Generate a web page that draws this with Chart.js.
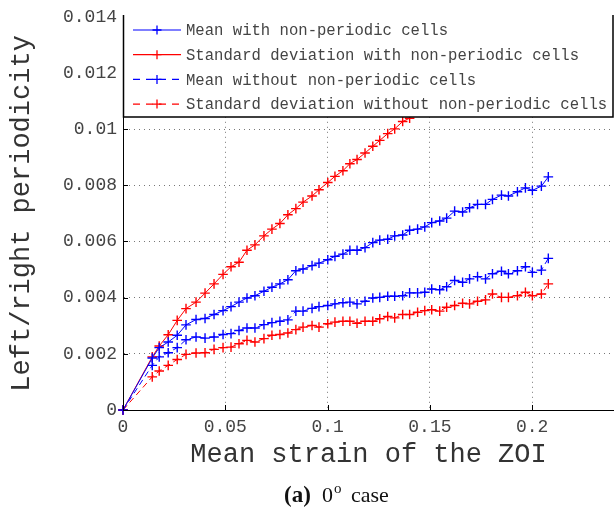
<!DOCTYPE html>
<html>
<head>
<meta charset="utf-8">
<script src="https://cdn.jsdelivr.net/npm/chart.js@4/dist/chart.umd.min.js"></script>
<style>
  html, body { margin: 0; padding: 0; background: #fff; }
  #wrap { width: 614px; height: 512px; }
</style>
</head>
<body>
<div id="wrap"><canvas id="chart"></canvas></div>
<script>
// mean strain of the ZOI at each saved step
const strain = [0, 0.0143, 0.0177, 0.0221, 0.0265, 0.0308, 0.0357, 0.0401, 0.0445, 0.0489,
  0.0528, 0.0567, 0.0606, 0.0645, 0.0689, 0.0728, 0.0767, 0.0806, 0.0845, 0.0880,
  0.0924, 0.0958, 0.1001, 0.1036, 0.1075, 0.1109, 0.1144, 0.1183, 0.1221, 0.1255,
  0.1294, 0.1328, 0.1367, 0.1401, 0.1440, 0.1475, 0.1509, 0.1548, 0.1582, 0.1621,
  0.1660, 0.1694, 0.1733, 0.1772, 0.1806, 0.1850, 0.1884, 0.1928, 0.1967, 0.2001,
  0.2045, 0.2079];

const meanWith = [0, 0.00185, 0.00222, 0.00242, 0.00266, 0.00303, 0.00322, 0.00326, 0.00340, 0.00354,
  0.00368, 0.00384, 0.00399, 0.00407, 0.00423, 0.00437, 0.00449, 0.00464, 0.00496, 0.00502,
  0.00514, 0.00523, 0.00535, 0.00547, 0.00555, 0.00569, 0.00569, 0.00578, 0.00596, 0.00605,
  0.00608, 0.00620, 0.00623, 0.00640, 0.00644, 0.00652, 0.00667, 0.00673, 0.00683, 0.00708,
  0.00705, 0.00720, 0.00732, 0.00732, 0.00750, 0.00765, 0.00762, 0.00777, 0.00791, 0.00782,
  0.00797, 0.00830];

// runs up behind the legend box
const stdWith = [0, 0.00189, 0.00228, 0.00268, 0.00319, 0.00361, 0.00384, 0.00416, 0.00449, 0.00483,
  0.00510, 0.00526, 0.00569, 0.00588, 0.00620, 0.00644, 0.00664, 0.00695, 0.00717, 0.00740,
  0.00762, 0.00784, 0.00810, 0.00832, 0.00852, 0.00877, 0.00892, 0.00915, 0.00939, 0.00960,
  0.00984, 0.01001, 0.01027, 0.01039];

const meanWithout = [0, 0.00159, 0.00189, 0.00204, 0.00222, 0.00250, 0.00260, 0.00256, 0.00260, 0.00269,
  0.00272, 0.00283, 0.00292, 0.00292, 0.00304, 0.00311, 0.00316, 0.00321, 0.00352, 0.00352,
  0.00362, 0.00368, 0.00372, 0.00378, 0.00382, 0.00384, 0.00378, 0.00387, 0.00399, 0.00401,
  0.00405, 0.00405, 0.00407, 0.00417, 0.00417, 0.00419, 0.00431, 0.00428, 0.00439, 0.00461,
  0.00455, 0.00467, 0.00475, 0.00467, 0.00485, 0.00494, 0.00485, 0.00496, 0.00510, 0.00490,
  0.00498, 0.00540];

const stdWithout = [0, 0.00118, 0.00139, 0.00159, 0.00180, 0.00198, 0.00203, 0.00204, 0.00216, 0.00222,
  0.00224, 0.00236, 0.00248, 0.00242, 0.00254, 0.00266, 0.00269, 0.00274, 0.00286, 0.00295,
  0.00301, 0.00295, 0.00307, 0.00313, 0.00316, 0.00316, 0.00309, 0.00316, 0.00316, 0.00325,
  0.00333, 0.00328, 0.00340, 0.00340, 0.00348, 0.00354, 0.00357, 0.00352, 0.00366, 0.00372,
  0.00380, 0.00378, 0.00387, 0.00392, 0.00413, 0.00401, 0.00401, 0.00407, 0.00419, 0.00407,
  0.00413, 0.00449];

const seriesNames = [
  'Mean with non-periodic cells',
  'Standard deviation with non-periodic cells',
  'Mean without non-periodic cells',
  'Standard deviation without non-periodic cells'
];

const xTicks = [0, 0.05, 0.1, 0.15, 0.2];
const yTicks = [0, 0.002, 0.004, 0.006, 0.008, 0.01, 0.012, 0.014];

const MONO = 'Liberation Mono, DejaVu Sans Mono, monospace';
const BLUE = '#0000ff';
const RED = '#ff0000';
const DASH = [6, 4];

function pts(values) {
  return values.map((v, i) => ({ x: strain[i], y: v }));
}

function fmt(v) {
  return String(+Number(v).toFixed(3));
}

function series(label, values, color, dashed) {
  return {
    label: label,
    data: pts(values),
    borderColor: color,
    backgroundColor: color,
    borderWidth: 1,
    borderDash: dashed ? DASH : [],
    pointStyle: 'cross',
    pointRadius: 4.8,
    pointBorderWidth: 1.4,
    pointHoverRadius: 4.8,
    tension: 0,
    fill: false,
    clip: { left: 6, bottom: 6, top: 0, right: 0 }
  };
}

function drawCross(ctx, x, y, r, color) {
  ctx.save();
  ctx.setLineDash([]);
  ctx.strokeStyle = color;
  ctx.lineWidth = 1.3;
  ctx.beginPath();
  ctx.moveTo(x - r, y); ctx.lineTo(x + r, y);
  ctx.moveTo(x, y - r); ctx.lineTo(x, y + r);
  ctx.stroke();
  ctx.restore();
}

// inward tick marks, boxed legend and the figure caption
const decorations = {
  id: 'decorations',
  afterDraw(chart) {
    const { ctx, chartArea: a, scales } = chart;
    ctx.save();

    ctx.strokeStyle = '#000';
    ctx.lineWidth = 1;
    xTicks.forEach(v => {
      const px = Math.round(scales.x.getPixelForValue(v)) + 0.5;
      ctx.beginPath(); ctx.moveTo(px, a.bottom); ctx.lineTo(px, a.bottom - 5); ctx.stroke();
    });
    yTicks.forEach(v => {
      const py = Math.round(scales.y.getPixelForValue(v)) + 0.5;
      ctx.beginPath(); ctx.moveTo(a.left, py); ctx.lineTo(a.left + 5, py); ctx.stroke();
    });

    // legend box sits in the top of the plot
    const bx = 123, by = 16, bw = 490, bh = 101;
    ctx.fillStyle = '#fff';
    ctx.fillRect(bx, by, bw, bh);
    ctx.strokeStyle = '#000';
    ctx.lineWidth = 1.5;
    ctx.beginPath();
    ctx.moveTo(bx + 0.5, by - 1);
    ctx.lineTo(bx + 0.5, by + bh);
    ctx.lineTo(bx + bw, by + bh);
    ctx.lineTo(bx + bw, by - 1);
    ctx.stroke();

    chart.data.datasets.forEach((ds, i) => {
      const y = 30 + i * 24.7;
      ctx.save();
      ctx.strokeStyle = ds.borderColor;
      ctx.lineWidth = 1.2;
      ctx.setLineDash(ds.borderDash.length ? [7, 6] : []);
      ctx.beginPath(); ctx.moveTo(133, y); ctx.lineTo(181, y); ctx.stroke();
      ctx.restore();
      drawCross(ctx, 157, y, 4.5, ds.borderColor);
      ctx.fillStyle = '#444';
      ctx.font = '15.6px ' + MONO;
      ctx.textBaseline = 'middle';
      ctx.textAlign = 'left';
      ctx.fillText(ds.label, 186, y + 1);
    });

    // caption under the axis title
    const base = 502;
    ctx.fillStyle = '#111';
    ctx.textBaseline = 'alphabetic';
    ctx.font = 'bold 23px Liberation Serif, serif';
    ctx.fillText('(a)', 284, base);
    ctx.font = '22px Liberation Serif, serif';
    ctx.fillText('0', 322, base);
    ctx.font = '15px Liberation Serif, serif';
    ctx.fillText('o', 334, base - 9);
    ctx.font = '22px Liberation Serif, serif';
    ctx.fillText('case', 351, base);

    ctx.restore();
  }
};

function gridColor(c) {
  return c.tick && c.tick.value === 0 ? 'rgba(0,0,0,0)' : '#777';
}

new Chart(document.getElementById('chart'), {
  type: 'line',
  data: {
    datasets: [
      series(seriesNames[0], meanWith, BLUE, false),
      series(seriesNames[1], stdWith, RED, false),
      series(seriesNames[2], meanWithout, BLUE, true),
      series(seriesNames[3], stdWithout, RED, true)
    ]
  },
  options: {
    responsive: true,
    maintainAspectRatio: false,
    animation: false,
    layout: { autoPadding: false, padding: { top: 15, right: 0, left: 0, bottom: 0 } },
    plugins: {
      legend: { display: false },
      tooltip: { enabled: false }
    },
    scales: {
      x: {
        type: 'linear',
        min: 0,
        max: 0.24,
        afterBuildTicks: s => { s.ticks = xTicks.map(v => ({ value: v })); },
        afterFit: s => { s.height = 102; },
        grid: { color: gridColor, lineWidth: 1, drawTicks: false },
        border: { display: true, color: '#000', width: 1, dash: [1, 4] },
        ticks: {
          color: '#444',
          padding: 6,
          maxRotation: 0,
          font: { family: MONO, size: 18 },
          callback: v => fmt(v)
        },
        title: {
          display: true,
          text: 'Mean strain of the ZOI',
          color: '#333',
          font: { family: MONO, size: 27 },
          padding: { top: 0, bottom: 41 }
        }
      },
      y: {
        min: 0,
        max: 0.014,
        afterBuildTicks: s => { s.ticks = yTicks.map(v => ({ value: v })); },
        afterFit: s => { s.width = 123; },
        grid: { color: gridColor, lineWidth: 1, drawTicks: false },
        border: { display: true, color: '#000', width: 1, dash: [1, 4] },
        ticks: {
          color: '#444',
          padding: 6,
          font: { family: MONO, size: 18 },
          callback: v => fmt(v)
        },
        title: {
          display: true,
          text: 'Left/right periodicity',
          color: '#333',
          font: { family: MONO, size: 27 },
          padding: { top: 6, bottom: 0 }
        }
      }
    }
  },
  plugins: [decorations]
});
</script>
</body>
</html>
